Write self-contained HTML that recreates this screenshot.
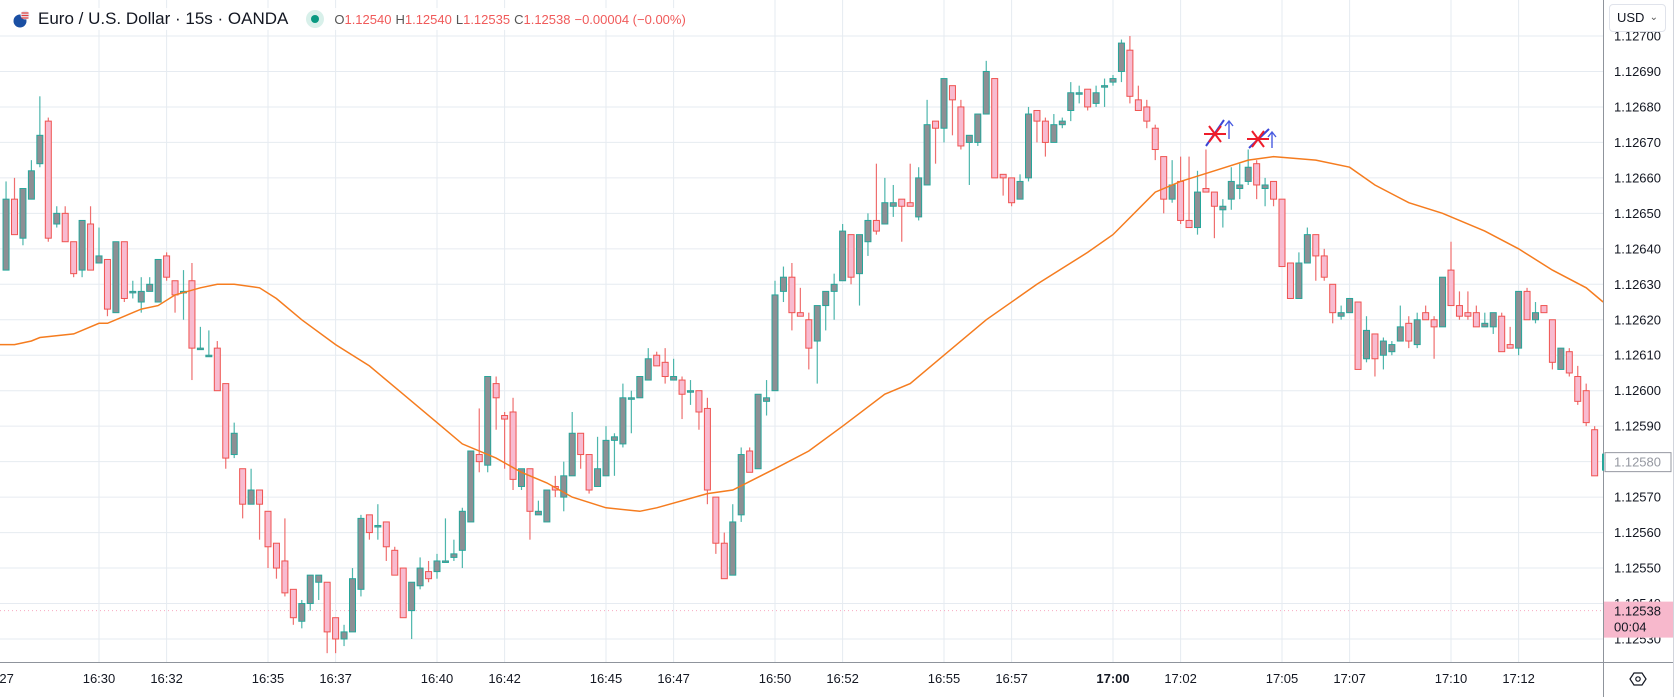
<!DOCTYPE html>
<html><head><meta charset="utf-8">
<style>
html,body{margin:0;padding:0;background:#fff;width:1679px;height:697px;overflow:hidden;font-family:"Liberation Sans",sans-serif;}
#wrap{position:relative;width:1679px;height:697px;}
svg{position:absolute;left:0;top:0;}
.hdr{position:absolute;left:12px;top:8px;height:22px;display:flex;align-items:center;white-space:nowrap;background:rgba(255,255,255,0.85);}
.title{font-size:17px;color:#131722;margin-left:8px;}
.dot{width:18px;height:18px;border-radius:50%;background:#d8f0ea;display:inline-flex;align-items:center;justify-content:center;margin-left:18px;}
.dot span{width:8px;height:8px;border-radius:50%;background:#089981;}
.ohlc{font-size:13px;color:#555;margin-left:10px;}
.ohlc b{font-weight:normal;color:#f05a5a;margin-right:4px;}
.usd{position:absolute;left:1609px;top:4px;width:57px;height:28px;border:1px solid #e0e3eb;border-radius:4px;background:#fff;font-size:13px;color:#131722;line-height:26px;padding-left:7px;box-sizing:border-box;}
.usd i{position:absolute;right:7px;top:0;font-style:normal;font-size:10px;color:#555;}
</style></head><body>
<div id="wrap">
<svg id="chart" width="1679" height="697"></svg>
<div class="hdr">
  <svg width="18" height="18" style="position:relative"><circle cx="8" cy="11" r="6.5" fill="#1a4fa3"/><circle cx="13" cy="5" r="4.5" fill="#e8e8f0"/><path d="M9.5 3h7M9.5 5.5h7M9.5 8h7" stroke="#e04040" stroke-width="1.2"/></svg>
  <span class="title">Euro / U.S. Dollar · 15s · OANDA</span>
  <span class="dot"><span></span></span>
  <span class="ohlc">O<b>1.12540</b>H<b>1.12540</b>L<b>1.12535</b>C<b>1.12538</b><b>−0.00004 (−0.00%)</b></span>
</div>
<div class="usd">USD<i>⌄</i></div>
</div>
<script>
const startIndex = -11;
const opens = [1.12634,1.12654,1.12643,1.12654,1.12664,1.12676,1.12647,1.12650,1.12642,1.12634,1.12647,
1.12636,1.12637,1.12622,1.12642,1.12628,1.12625,1.12628,1.12625,1.12638,1.12631,1.12628,1.12631,1.12612,1.12610,1.12612,1.12602,1.12582,1.12578,1.12568,1.12572,
1.12566,1.12557,1.12552,1.12544,1.12535,1.12540,1.12546,1.12546,1.12536,1.12530,1.12532,1.12544,1.12565,1.12562,1.12563,1.12555,1.12550,1.12538,1.12545,1.12549,
1.12549,1.12552,1.12553,1.12555,1.12563,1.12582,1.12579,1.12602,1.12593,1.12594,1.12573,1.12578,1.12565,1.12563,1.12573,1.12570,1.12576,1.12588,1.12582,1.12573,
1.12576,1.12586,1.12585,1.12598,1.12598,1.12603,1.12610,1.12608,1.12603,1.12603,1.12600,1.12600,1.12595,1.12570,1.12557,1.12548,1.12565,1.12583,1.12578,1.12597,
1.12600,1.12628,1.12632,1.12622,1.12620,1.12614,1.12624,1.12628,1.12631,1.12644,1.12633,1.12642,1.12648,1.12647,1.12652,1.12654,1.12653,1.12649,1.12658,1.12676,
1.12674,1.12686,1.12680,1.12670,1.12670,1.12678,1.12688,1.12661,1.12660,1.12654,1.12660,1.12679,1.12676,1.12670,1.12675,1.12679,1.12684,1.12685,1.12681,1.12686,
1.12687,1.12690,1.12696,1.12682,1.12680,1.12674,1.12666,1.12654,1.12659,1.12648,1.12646,1.12657,1.12656,1.12651,1.12654,1.12657,1.12659,1.12664,1.12657,1.12659,
1.12654,1.12636,1.12626,1.12636,1.12644,1.12638,1.12630,1.12621,1.12622,1.12625,1.12609,1.12616,1.12610,1.12611,1.12614,1.12619,1.12613,1.12622,1.12620,1.12618,
1.12634,1.12624,1.12622,1.12622,1.12618,1.12618,1.12621,1.12613,1.12612,1.12628,1.12620,1.12624,1.12620,1.12606,1.12611,1.12604,1.12600,1.12589];
const highs = [1.12659,1.12660,1.12657,1.12665,1.12683,1.12677,1.12652,1.12652,1.12642,1.12648,1.12652,
1.12646,1.12637,1.12642,1.12642,1.12631,1.12632,1.12632,1.12637,1.12639,1.12631,1.12634,1.12636,1.12618,1.12617,1.12614,1.12602,1.12591,1.12578,1.12578,1.12572,
1.12566,1.12557,1.12564,1.12544,1.12541,1.12548,1.12548,1.12546,1.12536,1.12534,1.12550,1.12565,1.12565,1.12568,1.12563,1.12556,1.12550,1.12546,1.12553,1.12552,
1.12554,1.12564,1.12558,1.12567,1.12583,1.12595,1.12604,1.12604,1.12594,1.12598,1.12578,1.12578,1.12569,1.12572,1.12576,1.12580,1.12594,1.12588,1.12582,1.12587,
1.12590,1.12588,1.12602,1.12600,1.12604,1.12612,1.12611,1.12612,1.12609,1.12604,1.12603,1.12600,1.12598,1.12570,1.12560,1.12568,1.12584,1.12584,1.12599,1.12603,
1.12631,1.12635,1.12636,1.12629,1.12622,1.12624,1.12628,1.12633,1.12647,1.12644,1.12644,1.12650,1.12664,1.12660,1.12658,1.12654,1.12664,1.12663,1.12682,1.12676,
1.12688,1.12686,1.12682,1.12672,1.12678,1.12693,1.12688,1.12661,1.12660,1.12661,1.12680,1.12679,1.12677,1.12678,1.12677,1.12687,1.12686,1.12685,1.12686,1.12688,
1.12689,1.12699,1.12700,1.12686,1.12682,1.12675,1.12666,1.12665,1.12666,1.12666,1.12662,1.12668,1.12656,1.12654,1.12663,1.12664,1.12668,1.12665,1.12660,1.12659,
1.12654,1.12636,1.12639,1.12646,1.12644,1.12640,1.12630,1.12624,1.12626,1.12625,1.12621,1.12616,1.12615,1.12614,1.12624,1.12621,1.12622,1.12624,1.12621,1.12632,
1.12642,1.12628,1.12628,1.12624,1.12622,1.12622,1.12622,1.12618,1.12628,1.12629,1.12625,1.12624,1.12620,1.12612,1.12612,1.12607,1.12602,1.12590];
const lows = [1.12634,1.12644,1.12641,1.12654,1.12663,1.12642,1.12646,1.12642,1.12632,1.12632,1.12634,
1.12636,1.12621,1.12622,1.12625,1.12626,1.12622,1.12628,1.12625,1.12631,1.12622,1.12620,1.12603,1.12612,1.12610,1.12600,1.12578,1.12581,1.12564,1.12568,1.12558,
1.12550,1.12547,1.12542,1.12534,1.12533,1.12538,1.12541,1.12526,1.12526,1.12528,1.12532,1.12542,1.12558,1.12558,1.12552,1.12548,1.12536,1.12530,1.12544,1.12546,
1.12547,1.12552,1.12552,1.12550,1.12563,1.12577,1.12577,1.12589,1.12578,1.12572,1.12572,1.12558,1.12565,1.12563,1.12570,1.12566,1.12576,1.12578,1.12571,1.12573,
1.12576,1.12576,1.12584,1.12588,1.12598,1.12603,1.12607,1.12602,1.12603,1.12592,1.12596,1.12589,1.12568,1.12554,1.12547,1.12548,1.12563,1.12577,1.12578,1.12593,
1.12600,1.12625,1.12617,1.12621,1.12606,1.12602,1.12617,1.12620,1.12631,1.12630,1.12624,1.12638,1.12644,1.12647,1.12649,1.12642,1.12652,1.12648,1.12658,1.12664,
1.12670,1.12672,1.12668,1.12658,1.12669,1.12678,1.12660,1.12655,1.12652,1.12654,1.12659,1.12670,1.12666,1.12670,1.12674,1.12676,1.12681,1.12679,1.12680,1.12680,
1.12686,1.12687,1.12681,1.12679,1.12674,1.12665,1.12650,1.12653,1.12647,1.12646,1.12644,1.12656,1.12643,1.12646,1.12651,1.12654,1.12658,1.12654,1.12652,1.12652,
1.12635,1.12626,1.12626,1.12636,1.12631,1.12631,1.12619,1.12620,1.12622,1.12606,1.12608,1.12604,1.12606,1.12610,1.12614,1.12612,1.12612,1.12620,1.12609,1.12618,
1.12624,1.12620,1.12620,1.12618,1.12618,1.12616,1.12611,1.12612,1.12610,1.12620,1.12619,1.12622,1.12606,1.12606,1.12604,1.12596,1.12590,1.12576];
const closes = [1.12654,1.12644,1.12657,1.12662,1.12672,1.12643,1.12650,1.12642,1.12633,1.12648,1.12634,
1.12638,1.12623,1.12642,1.12626,1.12628,1.12628,1.12630,1.12637,1.12632,1.12627,1.12628,1.12612,1.12612,1.12610,1.12600,1.12581,1.12588,1.12568,1.12572,1.12568,
1.12556,1.12550,1.12543,1.12536,1.12540,1.12548,1.12548,1.12532,1.12530,1.12532,1.12547,1.12564,1.12560,1.12562,1.12556,1.12548,1.12536,1.12546,1.12550,1.12547,
1.12552,1.12552,1.12554,1.12566,1.12583,1.12580,1.12604,1.12598,1.12592,1.12575,1.12578,1.12566,1.12566,1.12572,1.12572,1.12576,1.12588,1.12582,1.12572,1.12578,
1.12586,1.12587,1.12598,1.12598,1.12604,1.12609,1.12607,1.12604,1.12604,1.12599,1.12600,1.12594,1.12572,1.12557,1.12547,1.12563,1.12582,1.12577,1.12599,1.12598,
1.12627,1.12632,1.12622,1.12621,1.12612,1.12624,1.12628,1.12630,1.12645,1.12632,1.12644,1.12648,1.12645,1.12653,1.12653,1.12652,1.12652,1.12660,1.12675,1.12674,
1.12688,1.12682,1.12669,1.12672,1.12678,1.12690,1.12660,1.12660,1.12653,1.12659,1.12678,1.12676,1.12670,1.12675,1.12676,1.12684,1.12684,1.12680,1.12684,1.12686,
1.12688,1.12698,1.12683,1.12679,1.12676,1.12668,1.12654,1.12658,1.12648,1.12646,1.12656,1.12656,1.12652,1.12652,1.12659,1.12658,1.12663,1.12658,1.12658,1.12654,
1.12635,1.12626,1.12636,1.12644,1.12638,1.12632,1.12622,1.12622,1.12626,1.12606,1.12617,1.12609,1.12614,1.12613,1.12618,1.12614,1.12620,1.12620,1.12618,1.12632,
1.12624,1.12621,1.12621,1.12618,1.12619,1.12622,1.12611,1.12612,1.12628,1.12620,1.12622,1.12622,1.12608,1.12612,1.12605,1.12597,1.12591,1.12576];
const maIdx = [-12,-10,-8,-7,-3,0,1,5,7,9,12,14,16,19,21,24,28,32,36,40,43,47,50,53,56,60,64,66,72,75,80,84,88,93,96,100,105,111,117,120,125,128,132,136,139,144,148,151,155,159,164,168,172,176,178];
const maVal = [1.12613,1.12613,1.12614,1.12615,1.12616,1.12619,1.12619,1.12623,1.12624,1.12627,1.12629,1.12630,1.12630,1.12629,1.12626,1.12620,1.12613,1.12607,1.12599,1.12591,1.12585,1.12581,1.12577,1.12574,1.12570,1.12567,1.12566,1.12567,1.12571,1.12572,1.12578,1.12583,1.12590,1.12599,1.12602,1.12610,1.12620,1.12630,1.12639,1.12644,1.12656,1.12659,1.12662,1.12665,1.12666,1.12665,1.12663,1.12658,1.12653,1.12650,1.12645,1.12640,1.12634,1.12629,1.12625];
const priceTicks = [1.12700,1.12690,1.12680,1.12670,1.12660,1.12650,1.12640,1.12630,1.12620,1.12610,1.12600,1.12590,1.12580,1.12570,1.12560,1.12550,1.12540,1.12530];
const timeTickIdx = [-12,0,8,20,28,40,48,60,68,80,88,100,108,120,128,140,148,160,168];
const timeTickLabels = ["16:27","16:30","16:32","16:35","16:37","16:40","16:42","16:45","16:47","16:50","16:52","16:55","16:57","17:00","17:02","17:05","17:07","17:10","17:12"];
const lastPrice = 1.12538;
const crossPrice = 1.12580;

const NS="http://www.w3.org/2000/svg";
const svg=document.getElementById('chart');
const PW=1603, PH=662;
function yOf(p){return 36+(1.12700-p)/0.0001*35.47;}
function xOf(i){return 99+8.45*i;}
function mk(tag,attrs,parent){const e=document.createElementNS(NS,tag);for(const k in attrs)e.setAttribute(k,attrs[k]);(parent||svg).appendChild(e);return e;}

const defs=mk('defs',{});
const cp=mk('clipPath',{id:'plot'},defs);mk('rect',{x:0,y:0,width:PW,height:PH},cp);

const grid=mk('g',{});


priceTicks.forEach(p=>{const l=mk('line',{x1:0,x2:PW,y1:yOf(p),y2:yOf(p),stroke:'#e6ebf1','stroke-width':1},grid);

});
timeTickIdx.forEach(i=>{const l=mk('line',{x1:xOf(i),x2:xOf(i),y1:0,y2:PH,stroke:'#e6ebf1','stroke-width':1},grid);

});

const plot=mk('g',{'clip-path':'url(#plot)'});


const lp=mk('line',{x1:0,x2:PW,y1:yOf(lastPrice),y2:yOf(lastPrice),stroke:'#f7a9c0','stroke-width':1,'stroke-dasharray':'1 3'},plot);



for(let k=0;k<closes.length;k++){
  const i=startIndex+k, x=xOf(i), o=opens[k], c=closes[k], h=highs[k], l=lows[k];
  const up=c>=o;
  const g=mk('g',{},plot);
  
  
  const stroke=up?'#26a69a':'#ef5350';
  mk('line',{x1:x,x2:x,y1:yOf(h),y2:yOf(l),stroke:up?'#4db6ac':'#ef6f6f','stroke-width':1.2},g);
  const top=yOf(Math.max(o,c)), bot=yOf(Math.min(o,c));
  mk('rect',{x:x-3,y:top,width:6,height:Math.max(bot-top,1.5),fill:up?'#8d8f94':'#f8bbd0',stroke:stroke,'stroke-width':1},g);
}
let d='';
maIdx.forEach((i,k)=>{d+=(k?'L':'M')+xOf(i).toFixed(1)+' '+yOf(maVal[k]).toFixed(1);});
const ma=mk('path',{d:d,fill:'none',stroke:'#f57c1f','stroke-width':1.5},plot);



function marker(cx,cy,lx1,ly1,lx2,ly2,ax,ay1,ay2){
  const g=mk('g',{},plot);
  
  
  mk('path',{d:`M${lx1} ${ly1}L${lx2} ${ly2}`,stroke:'#3b45d6','stroke-width':2},g);
  mk('path',{d:`M${cx-11} ${cy}L${cx+11} ${cy}M${cx-6} ${cy-8}L${cx+6} ${cy+8}M${cx+6} ${cy-8}L${cx-6} ${cy+8}`,stroke:'#ee1c2a','stroke-width':2},g);
  mk('path',{d:`M${ax} ${ay2}L${ax} ${ay1}M${ax-4} ${ay1+5}L${ax} ${ay1}L${ax+4} ${ay1+5}`,stroke:'#4a5ce0','stroke-width':1.4,fill:'none'},g);
}
marker(1215,134,1206,146,1224,120,1229,121,139);
marker(1258,139,1249,148,1269,129,1272,132,148);

const ax=mk('g',{});


mk('line',{x1:PW+0.5,x2:PW+0.5,y1:0,y2:697,stroke:'#8f949c','stroke-width':1},ax);
mk('line',{x1:0,x2:1673,y1:PH+0.5,y2:PH+0.5,stroke:'#8f949c','stroke-width':1},ax);
mk('line',{x1:1673.5,x2:1673.5,y1:0,y2:697,stroke:'#d1d4dc','stroke-width':1},ax);
priceTicks.forEach(p=>{const t=mk('text',{x:1614,y:yOf(p)+4.5,'font-size':13,fill:'#131722','font-family':'Liberation Sans, sans-serif'},ax);t.textContent=p.toFixed(5);

});
timeTickIdx.forEach((i,k)=>{const t=mk('text',{x:xOf(i),y:683,'font-size':13,fill:'#131722','text-anchor':'middle','font-weight':timeTickLabels[k]==='17:00'?'bold':'normal','font-family':'Liberation Sans, sans-serif'},ax);t.textContent=timeTickLabels[k];

});
const cg=mk('g',{},ax);


mk('rect',{x:1605,y:yOf(crossPrice)-9,width:66,height:19,fill:'#fff',stroke:'#9598a1','stroke-width':1},cg);
mk('rect',{x:1602,y:yOf(crossPrice)-8,width:2,height:17,fill:'#26a69a'},cg);
const ct=mk('text',{x:1614,y:yOf(crossPrice)+5,'font-size':13,fill:'#9598a1','font-family':'Liberation Sans, sans-serif'},cg);ct.textContent=crossPrice.toFixed(5);
const lg=mk('g',{},ax);


mk('rect',{x:1604,y:yOf(lastPrice)-9,width:69,height:36,fill:'#f7b8cc'},lg);
const l1=mk('text',{x:1614,y:yOf(lastPrice)+5,'font-size':13,fill:'#131722','font-family':'Liberation Sans, sans-serif'},lg);l1.textContent=lastPrice.toFixed(5);
const l2=mk('text',{x:1614,y:yOf(lastPrice)+21,'font-size':13,fill:'#131722','font-family':'Liberation Sans, sans-serif'},lg);l2.textContent='00:04';
const si=mk('g',{},ax);


mk('path',{d:'M1630 679L1634 673L1642 673L1646 679L1642 685L1634 685Z',fill:'none',stroke:'#131722','stroke-width':1.2},si);
mk('circle',{cx:1638,cy:679,r:2.2,fill:'none',stroke:'#131722','stroke-width':1.2},si);
</script>
</body></html>
